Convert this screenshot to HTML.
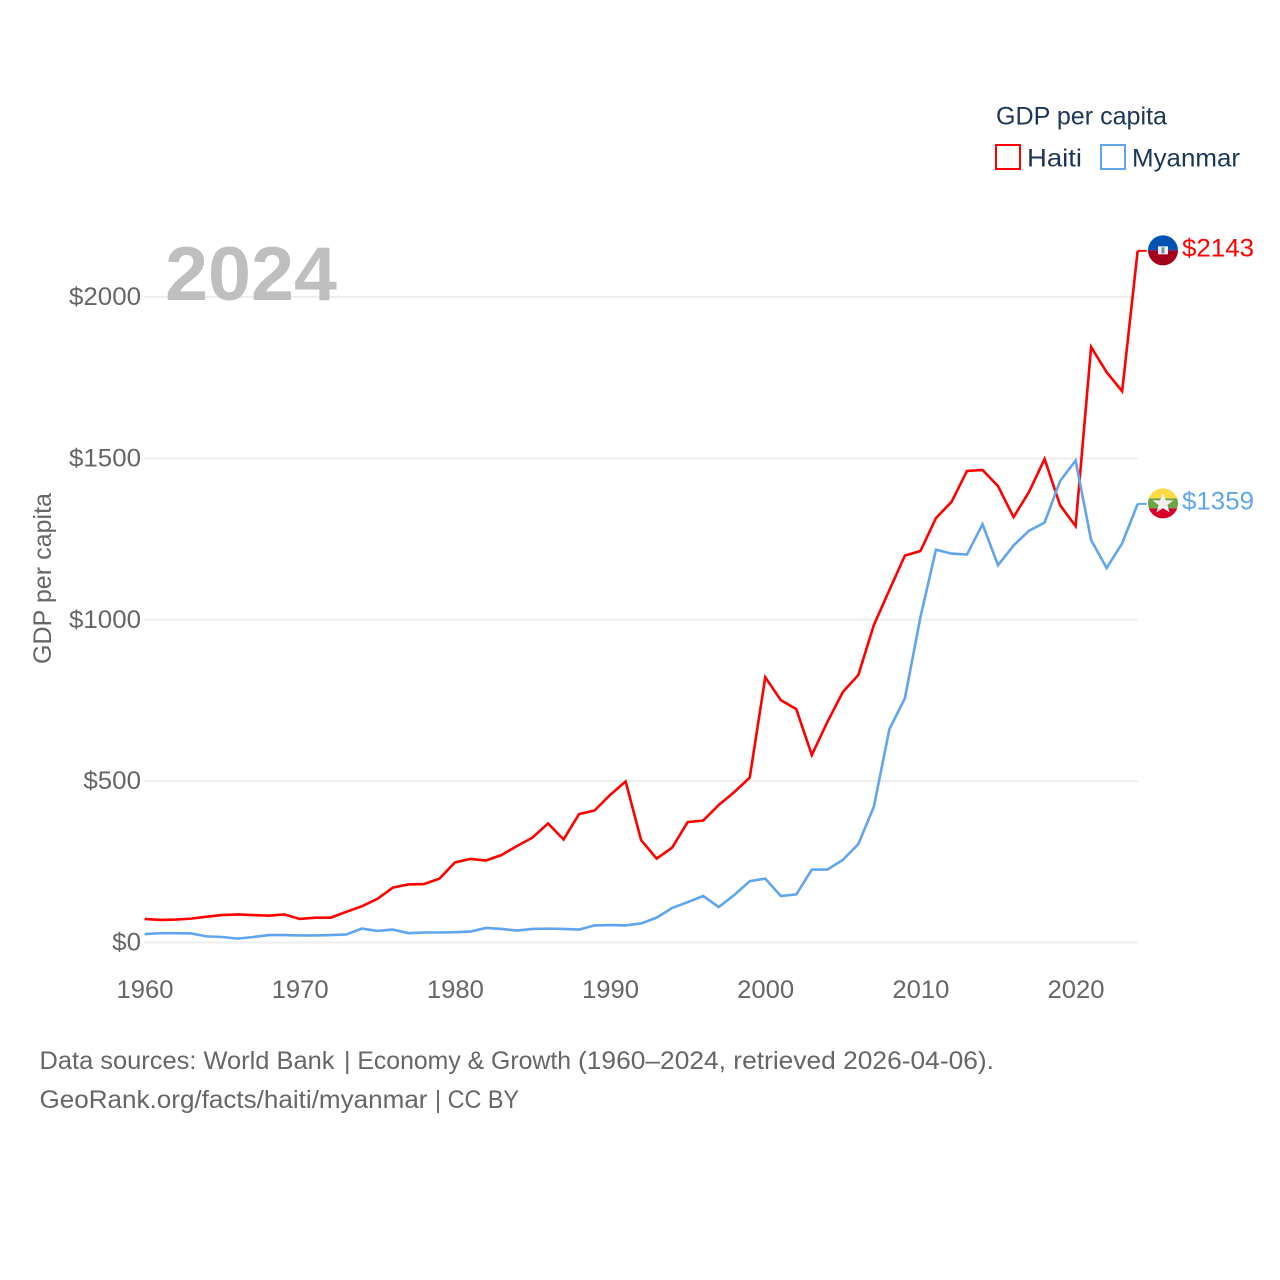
<!DOCTYPE html>
<html lang="en">
<head>
<meta charset="utf-8">
<title>GDP per capita: Haiti and Myanmar</title>
<style>
html,body{margin:0;padding:0;background:#fff;}
svg{display:block;font-family:"Liberation Sans",sans-serif;}
</style>
</head>
<body>
<svg id="chart" xmlns="http://www.w3.org/2000/svg" width="1280" height="1280" viewBox="0 0 1280 1280">
  <rect width="1280" height="1280" fill="#fff"/>
  <defs>
    <clipPath id="flagClipA"><circle cx="0" cy="0" r="15"/></clipPath>
    <clipPath id="flagClipB"><circle cx="0" cy="0" r="15"/></clipPath>
  </defs>
  <g id="grid"></g>
  <g id="yTicks"></g>
  <g id="xTicks"></g>
  <text x="165" y="300" font-size="76" font-weight="700" fill="#bfbfbf" textLength="172" lengthAdjust="spacingAndGlyphs">2024</text>
  <text transform="translate(51,578.5) rotate(-90)" text-anchor="middle" font-size="25" fill="#666" textLength="171" lengthAdjust="spacingAndGlyphs">GDP per capita</text>
  <path id="lineHaiti" fill="none" stroke="#ff0000" stroke-width="2.6" stroke-linejoin="miter"/>
  <path id="lineMyanmar" fill="none" stroke="#60a5ee" stroke-width="2.6" stroke-linejoin="miter"/>
  <path id="leaderHaiti" fill="none" stroke="#ff0000" stroke-width="2"/>
  <path id="leaderMyanmar" fill="none" stroke="#60a5ee" stroke-width="2"/>

  <g id="flagHaiti">
    <g clip-path="url(#flagClipA)">
      <rect x="-16" y="-16" width="32" height="16" fill="#0052b4"/>
      <rect x="-16" y="0" width="32" height="16" fill="#a2001d"/>
      <rect x="-5" y="-4" width="10" height="8" fill="#f0f0f0"/>
      <rect x="-1.5" y="-3" width="3" height="6" fill="#6b8fa8"/>
    </g>
  </g>
  <g id="flagMyanmar">
    <g clip-path="url(#flagClipB)">
      <rect x="-16" y="-16" width="32" height="11" fill="#ffda44"/>
      <rect x="-16" y="-5" width="32" height="10" fill="#6da544"/>
      <rect x="-16" y="5" width="32" height="11" fill="#d80027"/>
      <polygon points="0,-10 2.9,-3 10.5,-3 4.4,1.6 6.6,9 0,4.7 -6.6,9 -4.4,1.6 -10.5,-3 -2.9,-3" fill="#f0f0f0"/>
    </g>
  </g>
  <text id="endHaiti" x="1182" font-size="25" fill="#ff0000" textLength="72" lengthAdjust="spacingAndGlyphs"></text>
  <text id="endMyanmar" x="1182" font-size="25" fill="#60a5ee" textLength="72" lengthAdjust="spacingAndGlyphs"></text>

  <g>
    <text x="996" y="124.5" font-size="25" fill="#1d3557" textLength="171" lengthAdjust="spacingAndGlyphs">GDP per capita</text>
    <g>
      <rect x="996" y="145" width="24" height="24" fill="none" stroke="#ff0000" stroke-width="2"/>
      <text x="1027" y="166.5" font-size="25" fill="#1d3557" textLength="55" lengthAdjust="spacingAndGlyphs">Haiti</text>
    </g>
    <g>
      <rect x="1101" y="145" width="24" height="24" fill="none" stroke="#60a5ee" stroke-width="2"/>
      <text x="1132" y="166.5" font-size="25" fill="#1d3557" textLength="108" lengthAdjust="spacingAndGlyphs">Myanmar</text>
    </g>
  </g>

  <g font-size="25" fill="#666">
    <text x="39.5" y="1069" textLength="295" lengthAdjust="spacingAndGlyphs">Data sources: World Bank</text>
    <text x="344" y="1069" textLength="227" lengthAdjust="spacingAndGlyphs">| Economy &amp; Growth</text>
    <text x="578" y="1069" textLength="416" lengthAdjust="spacingAndGlyphs">(1960–2024, retrieved 2026-04-06).</text>
  </g>
  <g font-size="25" fill="#666">
    <text x="39.5" y="1108" textLength="388" lengthAdjust="spacingAndGlyphs">GeoRank.org/facts/haiti/myanmar</text>
    <text x="435" y="1108" textLength="84" lengthAdjust="spacingAndGlyphs">| CC BY</text>
  </g>
</svg>
<script>
const startYear = 1960;
const haitiValues = [73,70,71,74,80,85,87,85,83,87,73,77,77,95,112,135,170,180,181,198,248,259,254,271,299,325,369,319,398,409,457,499,317,260,294,373,378,426,466,511,822,751,723,581,683,776,829,984,1092,1199,1213,1315,1365,1461,1464,1414,1318,1396,1498,1355,1290,1845,1767,1708,2143];
const myanmarValues = [26,29,29,28,19,17,12,17,23,23,22,22,23,25,43,36,40,29,31,31,32,34,45,42,37,42,43,42,40,53,54,53,59,77,107,125,144,110,147,190,198,144,149,226,226,256,305,421,661,757,1008,1217,1205,1202,1296,1169,1230,1276,1301,1430,1493,1247,1160,1237,1359];
const yTickValues = [0,500,1000,1500,2000];
const yTickLabels = ["$0","$500","$1000","$1500","$2000"];
const xTickYears = [1960,1970,1980,1990,2000,2010,2020];

function xScale(year){ return 144.6 + (year - 1960) * (1075.6 - 144.6) / 60; }
function yScale(value){ return 942.5 - value * (942.5 - 297) / 2000; }
function linePath(values){
  return values.map(function(v,i){
    return (i ? "L" : "M") + xScale(startYear + i).toFixed(2) + " " + yScale(v).toFixed(2);
  }).join("");
}
const NS = "http://www.w3.org/2000/svg";
const gridGroup = document.getElementById("grid");
const yGroup = document.getElementById("yTicks");
const xGroup = document.getElementById("xTicks");
const lastYear = startYear + haitiValues.length - 1;

yTickValues.forEach(function(v,i){
  const line = document.createElementNS(NS,"line");
  
  
  line.setAttribute("x1", xScale(1960) - 0.6);
  line.setAttribute("x2", xScale(lastYear));
  line.setAttribute("y1", yScale(v));
  line.setAttribute("y2", yScale(v));
  line.setAttribute("stroke", "#eeeeee");
  line.setAttribute("stroke-width", "2");
  gridGroup.appendChild(line);

  const label = document.createElementNS(NS,"text");
  
  
  label.setAttribute("x", 141);
  label.setAttribute("y", yScale(v) + 8);
  label.setAttribute("text-anchor", "end");
  label.setAttribute("font-size", "25");
  label.setAttribute("fill", "#666");
  label.setAttribute("textLength", yTickLabels[i].length * 14.4);
  label.setAttribute("lengthAdjust", "spacingAndGlyphs");
  label.textContent = yTickLabels[i];
  yGroup.appendChild(label);
});

xTickYears.forEach(function(year){
  const label = document.createElementNS(NS,"text");
  
  
  label.setAttribute("x", xScale(year) + 0.4);
  label.setAttribute("y", 998);
  label.setAttribute("text-anchor", "middle");
  label.setAttribute("font-size", "25");
  label.setAttribute("fill", "#666");
  label.setAttribute("textLength", 57);
  label.setAttribute("lengthAdjust", "spacingAndGlyphs");
  label.textContent = year;
  xGroup.appendChild(label);
});

document.getElementById("lineHaiti").setAttribute("d", linePath(haitiValues));
document.getElementById("lineMyanmar").setAttribute("d", linePath(myanmarValues));

function placeEnd(values, leaderId, flagId, textId){
  const v = values[values.length - 1];
  const y = yScale(v);
  const x = xScale(lastYear);
  document.getElementById(leaderId).setAttribute("d", "M" + x + " " + y + "L" + (x + 9) + " " + y);
  document.getElementById(flagId).setAttribute("transform", "translate(1163," + (y - 0.5) + ")");
  const t = document.getElementById(textId);
  t.setAttribute("y", y + 5.5);
  t.textContent = "$" + v;
}
placeEnd(haitiValues, "leaderHaiti", "flagHaiti", "endHaiti");
placeEnd(myanmarValues, "leaderMyanmar", "flagMyanmar", "endMyanmar");
</script>
</body>
</html>
